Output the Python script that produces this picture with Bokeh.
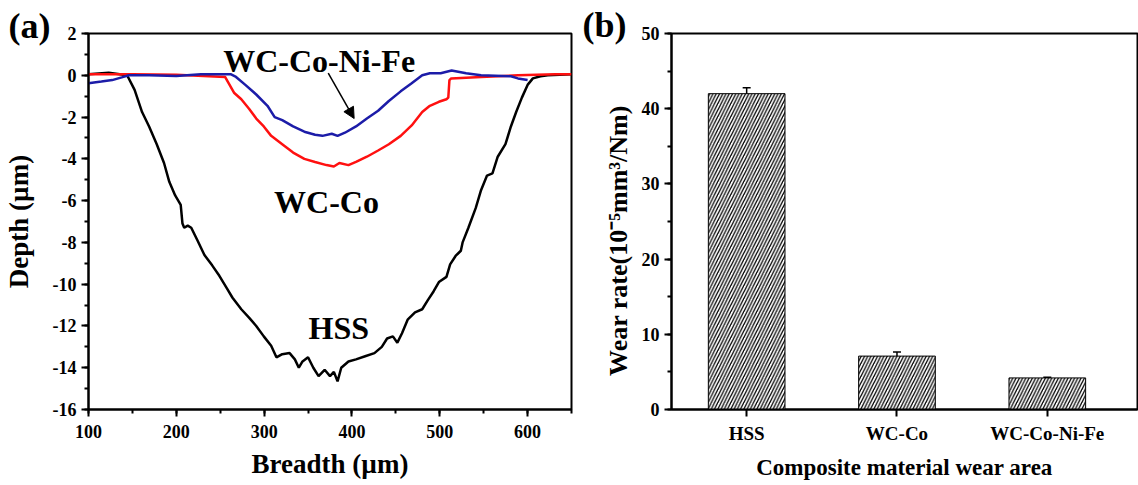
import math
from bokeh.plotting import figure
from bokeh.layouts import row
from bokeh.models import (Range1d, SingleIntervalTicker, FixedTicker, Arrow, NormalHead,
                          Label, Whisker, ColumnDataSource, TeeHead)
from bokeh.core.properties import value
from bokeh.embed import file_html
from bokeh.resources import INLINE

FONT = "Liberation Serif"

# ---------------- data: panel (a) depth profiles ----------------
hss_x = [100, 123, 144, 152.5, 161, 169, 177.7, 186, 192, 198.7, 205, 207, 209, 213, 217, 224,
         232, 240.8, 249, 257.6, 264, 274, 282.8, 291, 299.6, 308, 314, 320.6, 329, 335, 339.5,
         343.7, 350, 356, 362, 368.9, 375, 379.4, 383.6, 387.8, 396, 404.6, 415, 425.6, 434, 440,
         446.6, 451.7, 457, 463.4, 471.8, 480, 486.6, 492.9, 499, 507.6, 511.8, 518, 524, 526,
         532.6, 541, 547, 553.8, 560, 566, 574.8, 581, 587, 593.5, 600, 606, 614.7, 623, 650]
hss_y = [0.05, 0.12, 0.0, -0.7, -1.76, -2.45, -3.3, -4.2, -5.1, -5.75, -6.2, -7.1, -7.3, -7.2,
         -7.3, -7.9, -8.6, -9.1, -9.6, -10.2, -10.65, -11.2, -11.6, -12.0, -12.5, -12.95, -13.5,
         -13.35, -13.3, -13.6, -14.0, -13.7, -13.5, -14.0, -14.4, -14.1, -14.4, -14.2, -14.65,
         -14.0, -13.7, -13.6, -13.45, -13.3, -13.0, -12.6, -12.5, -12.8, -12.35, -11.7, -11.35,
         -11.2, -10.75, -10.35, -9.9, -9.65, -9.05, -8.65, -8.4, -8.0, -7.3, -6.35, -5.5, -4.8,
         -4.7, -3.9, -3.3, -2.45, -1.76, -1.07, -0.46, -0.15, -0.05, 0.0, 0.05]

wcco_x = [100, 150, 200, 255.5, 266, 274, 282.8, 291, 299.6, 308, 320.6, 333, 345.8, 358, 371,
          379.4, 385.7, 396, 404.6, 417, 429.8, 442, 455.5, 468, 480, 488.7, 499, 507.6, 509.7,
          511, 513, 547, 589, 631.5, 650]
wcco_y = [0.05, 0.05, 0.02, -0.08, -0.85, -1.15, -1.6, -2.07, -2.45, -2.9, -3.3, -3.7, -4.0,
          -4.15, -4.3, -4.37, -4.2, -4.3, -4.15, -3.9, -3.6, -3.3, -2.9, -2.4, -1.76, -1.46,
          -1.27, -1.15, -1.07, -0.23, -0.15, -0.08, 0.0, 0.05, 0.05]

wccnf_x = [100, 114.7, 127, 137.8, 146, 169, 200, 228, 261.8, 268, 278.6, 291, 303.8, 312,
           320.6, 333, 345.8, 358, 366.4, 377, 383.6, 392, 404.6, 417, 429.8, 442, 455.5, 468,
           480, 488.7, 501, 513.5, 530, 547, 581, 589, 600]
wccnf_y = [-0.38, -0.3, -0.23, -0.1, 0.0, 0.0, -0.03, 0.05, 0.05, -0.08, -0.46, -0.92, -1.46,
           -2.0, -2.15, -2.45, -2.7, -2.85, -2.9, -2.8, -2.9, -2.75, -2.45, -2.07, -1.7, -1.23,
           -0.77, -0.38, 0.0, 0.1, 0.1, 0.23, 0.1, 0.0, -0.05, -0.15, -0.23]

ann_text = ["WC-Co-Ni-Fe", "WC-Co", "HSS"]
ann_x = [362.6, 371, 385]
ann_y = [0.69, -6.06, -12.1]

depth_ticks = [-16, -14, -12, -10, -8, -6, -4, -2, 0, 2]

# ---------------- data: panel (b) wear rate ----------------
cats = ["HSS", "WC-Co", "WC-Co-Ni-Fe"]
cat_pos = [1, 2, 3]
wear = [42.0, 7.1, 4.2]
wear_err = [0.8, 0.55, 0.1]


def style_axes(p):
    for ax in (p.xaxis[0], p.yaxis[0]):
        ax.axis_line_width = 2
        ax.axis_line_color = "black"
        ax.major_tick_line_width = 2
        ax.minor_tick_line_width = 2
        ax.major_tick_in = 0
        ax.major_tick_out = 7
        ax.minor_tick_in = 0
        ax.minor_tick_out = 4
        ax.major_label_text_font = FONT
        ax.major_label_text_font_style = "bold"
        ax.major_label_text_font_size = "18px"
        ax.major_label_text_color = "black"
        ax.axis_label_text_font = FONT
        ax.axis_label_text_font_style = "bold"
        ax.axis_label_text_color = "black"
    p.grid.visible = False
    p.outline_line_color = "black"
    p.outline_line_width = 2
    p.outline_line_alpha = 1
    p.background_fill_color = "white"
    p.border_fill_color = "white"


def panel_tag(p, text, offset, standoff):
    t = p.title
    t.text = text
    t.text_font = FONT
    t.text_font_style = "bold"
    t.text_font_size = "36px"
    t.text_color = "black"
    t.align = "left"
    t.vertical_align = "bottom"
    t.offset = offset
    t.standoff = standoff


# ---------------- panel (a) ----------------
p1 = figure(width=575, height=485, x_range=Range1d(100, 650), y_range=Range1d(-16, 2),
            output_backend="svg", toolbar_location=None,
            min_border_left=87, min_border_right=4, min_border_top=19, min_border_bottom=76)
style_axes(p1)
p1.xaxis.ticker = SingleIntervalTicker(interval=100, num_minor_ticks=2)
p1.yaxis.ticker = SingleIntervalTicker(interval=2, num_minor_ticks=2)
p1.yaxis.major_label_overrides = {t: str(t) for t in depth_ticks}
p1.xaxis.axis_label = "Breadth (µm)"
p1.yaxis.axis_label = "Depth (µm)"
p1.xaxis.axis_label_text_font_size = "27px"
p1.yaxis.axis_label_text_font_size = "27px"
p1.xaxis.major_label_standoff = 8
p1.yaxis.major_label_standoff = 5
p1.xaxis.axis_label_standoff = 8
p1.yaxis.axis_label_standoff = 16
panel_tag(p1, "(a)", -80, -25)

p1.line(hss_x, hss_y, line_color="black", line_width=2.5)
p1.line(wcco_x, wcco_y, line_color="#ff1010", line_width=2.5)
p1.line(wccnf_x, wccnf_y, line_color="#1c1ca8", line_width=2.5)

p1.text(x=ann_x, y=ann_y, text=ann_text, text_font=value(FONT), text_font_style="bold",
        text_font_size="32px", text_align="center", text_baseline="alphabetic",
        text_color="black")

p1.add_layout(Arrow(end=NormalHead(size=11, fill_color="black", line_color="black"),
                    x_start=373, y_start=0.1, x_end=402.5, y_end=-2.07,
                    line_width=1.5, line_color="black"))

# ---------------- panel (b) ----------------
p2 = figure(width=563, height=485, x_range=Range1d(0.5, 3.6), y_range=Range1d(0, 50),
            output_backend="svg", toolbar_location=None,
            min_border_left=96, min_border_right=1, min_border_top=33, min_border_bottom=75)
style_axes(p2)
p2.yaxis.ticker = SingleIntervalTicker(interval=10, num_minor_ticks=2)
p2.xaxis.ticker = FixedTicker(ticks=cat_pos, minor_ticks=[])
p2.xaxis.major_label_overrides = {pos: c for pos, c in zip(cat_pos, cats)}
p2.xaxis.major_label_text_font_size = "19px"
p2.xaxis.axis_label = "Composite material wear area"
p2.xaxis.axis_label_text_font_size = "23px"
p2.xaxis.major_label_standoff = 6
p2.yaxis.major_label_standoff = 5
p2.xaxis.axis_label_standoff = 8
panel_tag(p2, "(b)", -89, -23)

src = ColumnDataSource(dict(
    x=cat_pos, top=wear,
    upper=[w + e for w, e in zip(wear, wear_err)],
    lower=[w - e for w, e in zip(wear, wear_err)],
))
p2.vbar(x="x", top="top", width=0.51, source=src, fill_color="white", line_color="black",
        line_width=1, hatch_pattern="/", hatch_color="black", hatch_scale=6.5,
        hatch_weight=1.3)
p2.add_layout(Whisker(source=src, base="x", upper="upper", lower="lower",
                      line_color="black", line_width=1.5,
                      upper_head=TeeHead(size=8, line_width=1.5, line_color="black"),
                      lower_head=TeeHead(size=8, line_width=1.5, line_color="black")))

p2.add_layout(Label(x=9, y=169, x_units="screen", y_units="screen",
                    text="Wear rate(10⁻⁵mm³/Nm)", angle=math.pi / 2,
                    text_font=FONT, text_font_style="bold", text_font_size="26px",
                    text_baseline="middle", text_align="center", text_color="black"), "left")

layout = row(p1, p2)
open("out.html", "w").write(file_html(layout, INLINE))
